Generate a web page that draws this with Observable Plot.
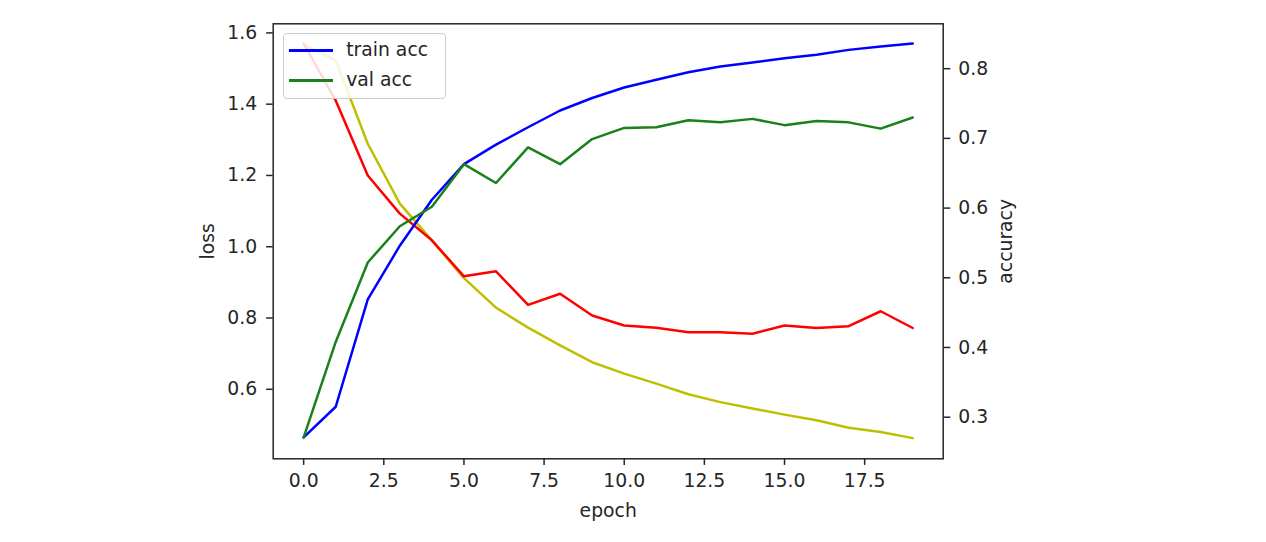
<!DOCTYPE html>
<html>
<head>
<meta charset="utf-8">
<script src="https://cdn.jsdelivr.net/npm/d3@7"></script>
<script src="https://cdn.jsdelivr.net/npm/@observablehq/plot@0.6"></script>
<style>
  html, body { margin: 0; padding: 0; background: #fff; }
  #wrap { position: relative; width: 1266px; height: 542px; font-family: "DejaVu Sans", sans-serif; }
  #legend { position: absolute; left: 282.7px; top: 33.3px; width: 163px; height: 66px;
    border: 1px solid #cccccc; border-radius: 4px; background: rgba(255,255,255,0.85); box-sizing: border-box; }
  .row { position: absolute; left: 0; height: 0; }
  .sw { position: absolute; left: 5px; width: 44px; height: 3px; top: -1.5px; }
  .lb { position: absolute; left: 62.5px; font-size: 18.8px; color: #262626; line-height: 20px; top: -11px; white-space: nowrap; }
</style>
</head>
<body>
<div id="wrap"></div>
<script>
// ---- data ----
const epochs = [0,1,2,3,4,5,6,7,8,9,10,11,12,13,14,15,16,17,18,19];
const trainAcc = [0.271,0.315,0.469,0.546,0.612,0.663,0.691,0.716,0.740,0.758,0.773,0.784,0.795,0.803,0.809,0.815,0.820,0.827,0.832,0.836];
const valAcc   = [0.271,0.408,0.522,0.574,0.602,0.663,0.636,0.687,0.663,0.699,0.715,0.716,0.726,0.723,0.728,0.719,0.725,0.723,0.714,0.730];
const trainLoss = [1.568,1.523,1.289,1.121,1.018,0.912,0.829,0.773,0.723,0.676,0.644,0.616,0.586,0.564,0.546,0.529,0.513,0.492,0.480,0.463];
const valLoss   = [1.570,1.410,1.200,1.093,1.018,0.917,0.931,0.837,0.868,0.807,0.779,0.773,0.760,0.760,0.756,0.779,0.772,0.777,0.819,0.772];
const xTicks = [0,2.5,5,7.5,10,12.5,15,17.5];
const lossTicks = [0.6,0.8,1.0,1.2,1.4,1.6];
const accTicks = [0.3,0.4,0.5,0.6,0.7,0.8];
const legendItems = ["train acc","val acc"];
const legendColors = ["#0000ff","#1a801a"];

// ---- twin-axis mapping ----
const lossDomain = [0.405, 1.6255];
const accDomain = [0.2403, 0.8644];
const k = (lossDomain[1]-lossDomain[0])/(accDomain[1]-accDomain[0]);
const toLeft = a => lossDomain[0] + (a - accDomain[0]) * k;
const fromLeft = v => accDomain[0] + (v - lossDomain[0]) / k;

const rows = epochs.map((e,i) => ({epoch:e, trainLoss:trainLoss[i], valLoss:valLoss[i], trainAcc:trainAcc[i], valAcc:valAcc[i]}));

const ink = "#262626";
const chart = Plot.plot({
  width: 1266, height: 542,
  marginLeft: 272.7, marginRight: 323.3, marginTop: 23.3, marginBottom: 83.7,
  style: {fontFamily: "DejaVu Sans, sans-serif", fontSize: "18.8px", color: ink, background: "#fff", overflow: "visible"},
  x: {domain: [-0.95, 19.95]},
  y: {domain: lossDomain},
  marks: [
    Plot.line(rows, {x:"epoch", y:"trainLoss", stroke:"#bfbf00", strokeWidth:2.5}),
    Plot.line(rows, {x:"epoch", y:"valLoss", stroke:"#ff0000", strokeWidth:2.5}),
    Plot.line(rows, {x:"epoch", y: d => toLeft(d.trainAcc), stroke:"#0000ff", strokeWidth:2.5}),
    Plot.line(rows, {x:"epoch", y: d => toLeft(d.valAcc), stroke:"#1a801a", strokeWidth:2.5}),
    Plot.axisX({ticks: xTicks, tickFormat: d => d.toFixed(1), tickSize: 6.6, tickPadding: 8, label: null, strokeWidth: 1.5}),
    Plot.axisY({anchor: "left", ticks: lossTicks, tickFormat: d => d.toFixed(1), tickSize: 6.6, tickPadding: 9.5, label: null, strokeWidth: 1.5}),
    Plot.axisY(accTicks.map(toLeft), {anchor: "right", tickFormat: d => fromLeft(d).toFixed(1), tickSize: 6.6, tickPadding: 8.5, label: null, strokeWidth: 1.5}),
    Plot.frame({stroke: ink, strokeWidth: 1.5}),
    Plot.text(["loss"], {text: d => d, frameAnchor: "left", rotate: -90, dx: -65.7, textAnchor: "middle", lineAnchor: "middle", fill: ink}),
    Plot.text(["accuracy"], {text: d => d, frameAnchor: "right", rotate: -90, dx: 62.3, textAnchor: "middle", lineAnchor: "middle", fill: ink}),
    Plot.text(["epoch"], {text: d => d, frameAnchor: "bottom", dy: 52, textAnchor: "middle", lineAnchor: "middle", fill: ink})
  ]
});
const wrap = document.getElementById("wrap");
wrap.appendChild(chart);

// legend (matplotlib-style, inside axes upper-left)
const lg = document.createElement("div");
lg.id = "legend";
legendItems.forEach((name, i) => {
  const r = document.createElement("div");
  r.className = "row";
  r.style.top = (16.7 + i * 30) + "px";
  const sw = document.createElement("div");
  sw.className = "sw"; sw.style.background = legendColors[i];
  const lb = document.createElement("div");
  lb.className = "lb"; lb.textContent = name;
  r.appendChild(sw); r.appendChild(lb);
  lg.appendChild(r);
});
wrap.appendChild(lg);
</script>
</body>
</html>
